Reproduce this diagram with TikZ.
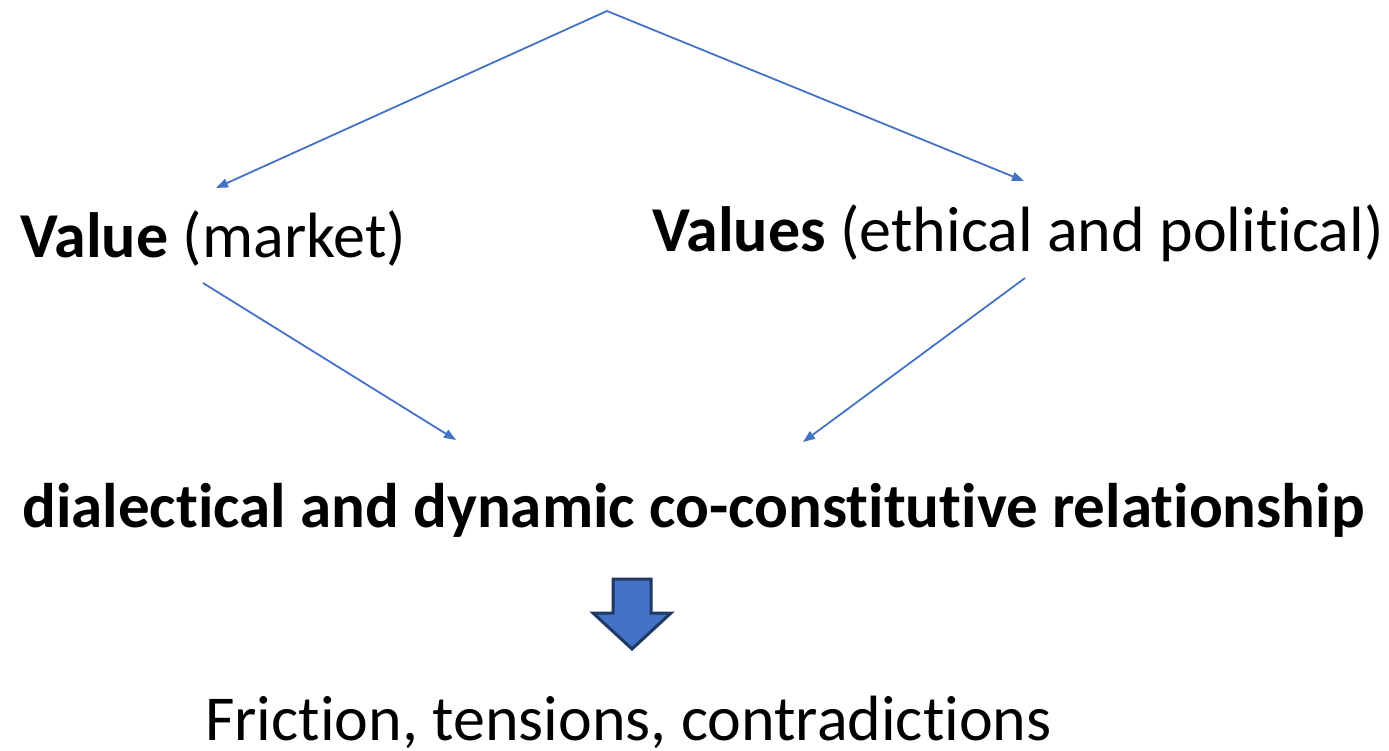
\documentclass[tikz,border=0pt]{standalone}
\usepackage{fontspec}
\setmainfont[Ligatures={NoCommon,NoContextual,NoRare}]{Carlito}
\usepackage{tikz}
\usetikzlibrary{arrows.meta}
\definecolor{Accent}{HTML}{4472C4}
\definecolor{Navy}{HTML}{1F3864}

\begin{document}
\begin{tikzpicture}[x=1pt,y=-1pt,
  label/.style={anchor=base west,inner sep=0pt,font=\fontsize{64}{70}\selectfont},
  link/.style={-{Triangle[length=12pt,width=9pt]},line width=1.8pt,color=Accent},
  bigarrow/.style={fill=Accent,draw=Navy,line width=3pt,line join=miter}
]
\useasboundingbox (0,0) rectangle (1389,751);
% split point at the top
\coordinate (top) at (607,11);
\node[label] (value) at (20,258) {\textbf{Value} (market)};
\node[label] (values) at (652,252) {\textbf{Values} (ethical and political)};
\node[label,font=\fontsize{63}{70}\selectfont] (relation) at (22,527)
  {\textbf{dialectical and dynamic co-constitutive relationship}};
\node[label] (friction) at (205,740) {Friction, tensions, contradictions};
% connectors
\coordinate (valueTop) at (216,188);
\coordinate (valuesTop) at (1024,181);
\coordinate (valueLow) at (203,283);
\coordinate (valuesLow) at (1025,278);
\coordinate (relL) at (456,440);
\coordinate (relR) at (803,442);
\draw[link] (top) -- (valueTop);
\draw[link] (top) -- (valuesTop);
\draw[link] (valueLow) -- (relL);
\draw[link] (valuesLow) -- (relR);
% block arrow down
\draw[bigarrow] (613,579) -- (651,579) -- (651,613) -- (671,613) -- (632,649)
  -- (593,613) -- (613,613) -- cycle;
\end{tikzpicture}
\end{document}
